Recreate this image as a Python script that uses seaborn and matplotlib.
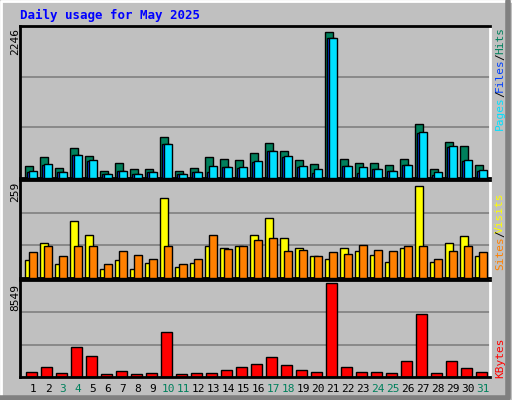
import matplotlib
matplotlib.use("Agg")
import matplotlib.pyplot as plt
import seaborn as sns
import numpy as np
import pandas as pd

sns.set_style("white")
plt.rcParams['font.family'] = ['DejaVu Sans Mono', 'DejaVu Sans']

days = list(range(1, 32))
weekend = [3, 4, 10, 11, 17, 18, 24, 25, 31]
hits = [180, 315, 150, 450, 330, 105, 225, 135, 135, 615, 105, 150, 315, 285, 270, 375,
        525, 405, 270, 210, 2205, 285, 225, 225, 195, 285, 810, 135, 540, 480, 195]
files = [105, 210, 90, 345, 270, 60, 105, 60, 90, 510, 60, 90, 180, 165, 165, 255,
         405, 330, 180, 135, 2115, 180, 165, 135, 105, 195, 690, 90, 480, 270, 120]
pages = [95, 200, 85, 340, 260, 55, 100, 55, 85, 505, 55, 85, 90, 160, 150, 240,
         400, 320, 170, 75, 2110, 175, 80, 130, 100, 190, 685, 50, 470, 250, 110]
visits = [49, 94, 38, 153, 117, 25, 49, 25, 41, 217, 31, 41, 85, 82, 85, 117,
          161, 109, 82, 60, 52, 82, 74, 63, 44, 82, 249, 44, 94, 114, 58]
sites = [71, 87, 60, 85, 85, 39, 74, 63, 52, 85, 39, 52, 117, 79, 87, 103,
         109, 74, 76, 60, 71, 66, 90, 76, 74, 87, 87, 52, 74, 85, 71]
kbytes = [437, 905, 343, 2683, 1935, 250, 530, 250, 343, 4057, 250, 343, 343, 624, 905, 1185,
          1840, 1092, 624, 437, 8549, 905, 437, 437, 343, 1466, 5680, 343, 1466, 811, 437]

fig = plt.figure(figsize=(5.12, 4.0), dpi=100)
fig.patch.set_facecolor('#C0C0C0')
fig.add_artist(plt.Line2D([0.002, 0.002, 0.998], [0.0, 0.998, 0.998], color='white', lw=2, transform=fig.transFigure))
fig.add_artist(plt.Line2D([0.993, 0.993, 0.0], [0.998, 0.005, 0.005], color='#808080', lw=4, transform=fig.transFigure))

L, R = 20/512, 490/512
def mk(top, bot):
    return fig.add_axes([L, 1-bot/400, R-L, (bot-top)/400])

ax1 = mk(26, 178)
ax2 = mk(180, 278)
ax3 = mk(280, 377)

d = np.array(days, dtype=float)
ek = dict(edgecolor='black', linewidth=1)
ax1.bar(d-0.27, hits, width=0.55, color='#00805C', **ek, zorder=2)
ax1.bar(d-0.13, pages, width=0.55, color='#0040FF', **ek, zorder=3)
ax1.bar(d, files, width=0.55, color='#00E0FF', **ek, zorder=4)
ax1.set_ylim(0, 2246*1.02)

ax2.bar(d-0.27, visits, width=0.55, color='#FFFF00', **ek, zorder=2)
ax2.bar(d, sites, width=0.55, color='#FF8000', **ek, zorder=3)
ax2.set_ylim(0, 259*1.02)

df = pd.DataFrame({'day': d-0.1, 'kb': kbytes})
sns.barplot(data=df, x='day', y='kb', native_scale=True, width=0.73, color='#FF0000',
            saturation=1, edgecolor='black', linewidth=1, ax=ax3, zorder=2)
ax3.set_ylim(0, 8549*1.03)

for ax, mx in [(ax1, 2246*1.02), (ax2, 259*1.02), (ax3, 8549*1.03)]:
    ax.set_facecolor('#C0C0C0')
    ax.set_xlim(0.13, 31.47)
    for f in (1/3, 2/3):
        ax.axhline(mx*f, color='#808080', lw=1.2, zorder=1)
    ax.set_xticks([]); ax.set_yticks([])
    ax.set_xlabel(''); ax.set_ylabel('')
    for s in ax.spines.values():
        s.set_color('black'); s.set_linewidth(2)
    ax.spines['right'].set_color('white')

fig.text(20/512, 1-15/400, 'Daily usage for May 2025', color='#0000FF', fontsize=9,
         fontweight='bold', va='center', ha='left')

for y, lab in [(26, '2246'), (180, '259'), (282, '8549')]:
    fig.text(15/512, 1-(y+2)/400, lab, rotation=90, fontsize=8, ha='center', va='top', color='black')

def rlab(parts):
    for y, t, c in parts:
        fig.text(500/512, 1-y/400, t, rotation=90, fontsize=8, ha='center', va='center', color=c)

rlab([(40, 'Hits', '#00805C'), (57, '/', 'black'), (75, 'Files', '#0040FF'),
      (94, '/', 'black'), (113, 'Pages', '#00E0FF')])
rlab([(213, 'Visits', '#FFFF00'), (234, '/', 'black'), (253, 'Sites', '#FF8000')])
rlab([(358, 'KBytes', '#FF0000')])

for dd in days:
    x = L + (dd - 0.13) / (31.47 - 0.13) * (R - L)
    fig.text(x, 1-389/400, str(dd), fontsize=8, ha='center', va='center',
             color='#00805C' if dd in weekend else 'black')

fig.savefig('out.png', dpi=100, facecolor=fig.get_facecolor())
